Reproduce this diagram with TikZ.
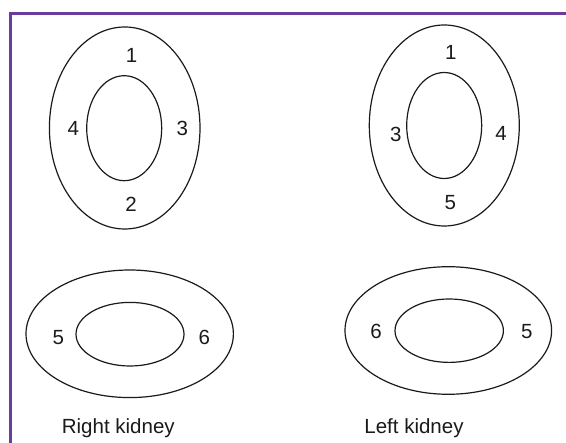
\documentclass[tikz,border=0pt]{standalone}
\usepackage{fontspec}
\newfontfamily\arialf{Liberation Sans}
\usepackage{tikz}
\usetikzlibrary{shapes.geometric}
\definecolor{framec}{HTML}{6A3D9A}
\definecolor{linec}{HTML}{1A1A1A}
\tikzset{
  rim/.style={ellipse,draw=linec,line width=1.2pt,inner sep=0pt},
  num/.style={font=\arialf\fontsize{20.5}{24}\selectfont,text=linec,inner sep=0pt},
  lbl/.style={num,anchor=base},
  frame/.style={draw=framec,line width=2.6pt},
}
\begin{document}
\begin{tikzpicture}[x=1pt,y=-1pt]
  \useasboundingbox (0,0) rectangle (566,443);
  \coordinate (fa) at (566,13.5);
  \coordinate (fb) at (10.5,13.5);
  \coordinate (fc) at (10.5,443);
  \draw[frame] (fa) -- (fb) -- (fc);
  % right kidney, upright
  \node[rim,minimum width=150.6pt,minimum height=202pt] (rkO) at (124.7,128) {};
  \node[rim,minimum width=75pt,minimum height=105pt] (rkI) at (124.2,128.2) {};
  \node[num] (rk1) at (131.7,55) {1};
  \node[num] (rk4) at (73.3,128.3) {4};
  \node[num] (rk3) at (182.3,128) {3};
  \node[num] (rk2) at (131,204) {2};
  % left kidney, upright
  \node[rim,minimum width=150pt,minimum height=201pt] (lkO) at (444.3,125.5) {};
  \node[rim,minimum width=75pt,minimum height=106pt] (lkI) at (444.2,125.5) {};
  \node[num] (lk1) at (450.7,52.3) {1};
  \node[num] (lk3) at (395.7,134) {3};
  \node[num] (lk4) at (501,133.3) {4};
  \node[num] (lk5) at (450.3,202.7) {5};
  % right kidney, lying
  \node[rim,minimum width=207.4pt,minimum height=127.6pt] (rhO) at (129.7,333.8) {};
  \node[rim,minimum width=108pt,minimum height=63.6pt] (rhI) at (130,334.2) {};
  \node[num] (rh5) at (58.3,337.3) {5};
  \node[num] (rh6) at (204.3,337.3) {6};
  % left kidney, lying
  \node[rim,minimum width=206.6pt,minimum height=127.6pt] (lhO) at (448.3,330.5) {};
  \node[rim,minimum width=108.4pt,minimum height=63.4pt] (lhI) at (449.2,330.7) {};
  \node[num] (lh6) at (376,331.7) {6};
  \node[num] (lh5) at (526.7,331.7) {5};
  \node[lbl] (rcap) at (118.3,433.5) {Right kidney};
  \node[lbl] (lcap) at (414,433.5) {Left kidney};
\end{tikzpicture}
\end{document}
